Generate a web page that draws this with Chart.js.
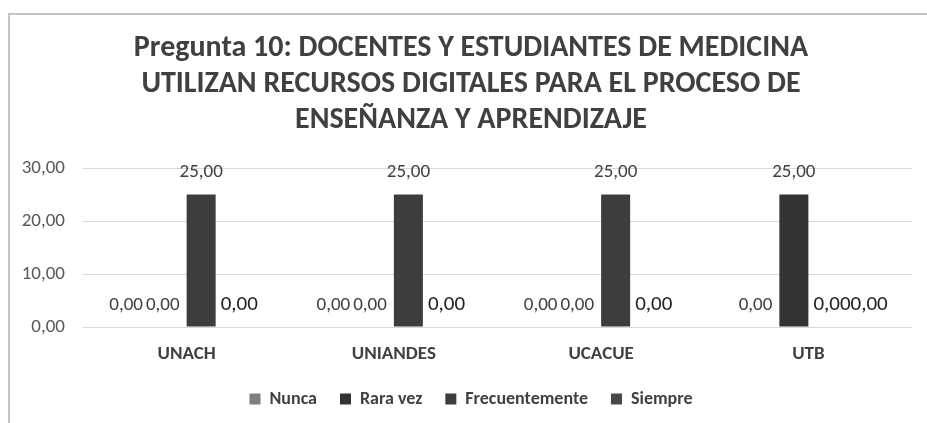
<!DOCTYPE html>
<html>
<head>
<meta charset="utf-8">
<script src="https://cdn.jsdelivr.net/npm/chart.js@4/dist/chart.umd.min.js"></script>
<style>
html,body{margin:0;padding:0;background:#fff;}
#wrap{width:927px;height:423px;position:relative;}
</style>
</head>
<body>
<div id="wrap"><canvas id="c" width="927" height="423"></canvas></div>
<script>
const categories = ['UNACH', 'UNIANDES', 'UCACUE', 'UTB'];
const seriesNames = ['Nunca', 'Rara vez', 'Frecuentemente', 'Siempre'];
const nunca = [0, 0, 0, 0];
const raraVez = [0, 0, 0, 25];
const frecuentemente = [25, 25, 25, 0];
const siempre = [0, 0, 0, 0];
const yTicks = [0, 10, 20, 30];
const titleLines = [
  'Pregunta 10: DOCENTES Y ESTUDIANTES DE MEDICINA',
  'UTILIZAN RECURSOS DIGITALES PARA EL PROCESO DE',
  'ENSEÑANZA Y APRENDIZAJE'
];

const FONT = "Carlito, Lato, 'Open Sans', sans-serif";
const colors = ['#7f7f7f', '#333333', '#3d3d3d', '#474747'];
const fmt = v => v.toFixed(2).replace('.', ',');

const frame = {
  id: 'frame',
  beforeDraw(chart) {
    const ctx = chart.ctx;
    ctx.save();
    ctx.fillStyle = '#fff';
    ctx.fillRect(0, 0, chart.width, chart.height);
    ctx.strokeStyle = '#c4c4c4';
    ctx.lineWidth = 2;
    ctx.beginPath();
    ctx.moveTo(9, chart.height);
    ctx.lineTo(9, 14);
    ctx.lineTo(chart.width, 14);
    ctx.stroke();
    ctx.restore();
  }
};

// shift title and legend to be centred like the original (chart-frame centred)
const shiftBoxes = {
  id: 'shiftBoxes',
  afterLayout(chart) {
    const dx = 15;
    for (const b of [chart.titleBlock, chart.legend]) {
      if (b) { b.left += dx; b.right += dx; }
    }
  }
};

const labelsPlugin = {
  id: 'valueLabels',
  afterDatasetsDraw(chart) {
    const ctx = chart.ctx;
    const n = chart.data.labels.length;
    const dsCount = chart.data.datasets.length;
    ctx.save();
    ctx.textBaseline = 'middle';
    ctx.textAlign = 'left';
    for (let c = 0; c < n; c++) {
      let k = 0, best = -Infinity;
      const items = [];
      for (let d = 0; d < dsCount; d++) {
        const v = chart.data.datasets[d].data[c];
        const el = chart.getDatasetMeta(d).data[c];
        const big = (d >= 2 && v === 0);
        const font = (big ? '500 21px ' : '19px ') + FONT;
        ctx.font = font;
        const w = ctx.measureText(fmt(v)).width;
        items.push({v, el, font, w, big, cx: el.x, y: el.y - 22});
        if (v > best) { best = v; k = d; }
      }
      const bar = items[k].el;
      const half = bar.width / 2;
      items[k].left = items[k].cx - items[k].w / 2;
      let limit = bar.x - half - 7;
      for (let d = k - 1; d >= 0; d--) {
        const it = items[d];
        const right = Math.min(it.cx + it.w / 2, limit);
        it.left = right - it.w;
        limit = it.left - 3;
      }
      let start = bar.x + half + 5;
      for (let d = k + 1; d < dsCount; d++) {
        const it = items[d];
        it.left = Math.max(it.cx - it.w / 2, start);
        start = it.left + it.w;
      }
      for (const it of items) {
        ctx.font = it.font;
        ctx.fillStyle = it.big ? '#222222' : '#404040';
        ctx.fillText(fmt(it.v), it.left, it.y);
      }
    }
    ctx.restore();
  }
};

const seriesData = [nunca, raraVez, frecuentemente, siempre];

new Chart(document.getElementById('c'), {
  type: 'bar',
  data: {
    labels: categories,
    datasets: seriesNames.map((name, i) => ({
      label: name,
      data: seriesData[i],
      backgroundColor: colors[i],
      borderWidth: 0,
      categoryPercentage: 0.56,
      barPercentage: 1.0
    }))
  },
  options: {
    responsive: false,
    animation: false,
    devicePixelRatio: 1,
    layout: { padding: { left: 0, right: 15, top: 0, bottom: 5 } },
    plugins: {
      tooltip: { enabled: false },
      title: {
        display: true,
        text: titleLines,
        color: '#404040',
        font: { family: FONT, size: 30, weight: 'bold', lineHeight: 1.2 },
        padding: { top: 30, bottom: 30 }
      },
      legend: {
        position: 'bottom',
        labels: {
          color: '#404040',
          font: { family: FONT, size: 18, weight: 'bold' },
          boxWidth: 11,
          boxHeight: 11,
          padding: 23
        }
      }
    },
    scales: {
      x: {
        grid: { display: false, drawTicks: false },
        border: { display: false },
        ticks: {
          color: '#404040',
          font: { family: FONT, size: 19, weight: 'bold' },
          padding: 16
        },
        afterFit(scale) { scale.height = 40; }
      },
      y: {
        min: 0,
        max: 30,
        afterBuildTicks(scale) { scale.ticks = yTicks.map(v => ({ value: v })); },
        grid: { color: '#d9d9d9', lineWidth: 1, drawTicks: false },
        border: { display: false },
        ticks: {
          color: '#595959',
          font: { family: FONT, size: 19 },
          padding: 18,
          callback: v => fmt(v)
        },
        afterFit(scale) { scale.width = 83; }
      }
    }
  },
  plugins: [frame, shiftBoxes, labelsPlugin]
});
</script>
</body>
</html>
